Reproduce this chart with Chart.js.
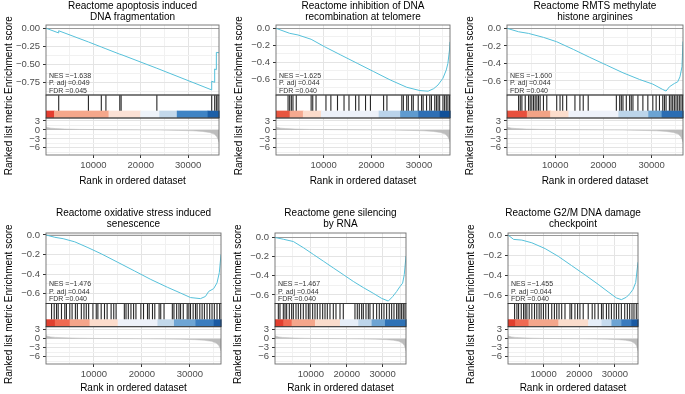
<!DOCTYPE html>
<html>
<head>
<meta charset="utf-8">
<script src="https://cdn.jsdelivr.net/npm/chart.js@4.4.1/dist/chart.umd.min.js"></script>
<style>
  html, body { margin: 0; padding: 0; background: #fff; }
  #wrap { position: relative; width: 685px; height: 394px; overflow: hidden; }
  #wrap canvas { position: absolute; }
</style>
</head>
<body>
<div id="wrap"></div>
<script>
/* GSEA enrichment plots, 2 x 3 grid
   - running enrichment score (top), hit strip + colour bar (middle),
     ranked list metric (bottom), stacked y axes in one chart per panel */

// ---- shared axes ----
const xTicks = [5000, 10000, 15000, 20000, 25000, 30000, 35000];
const xLabelled = [10000, 20000, 30000];
const rankTicks = [3, 0, -3, -6];
const rankMinor = [1.5, -1.5, -4.5, -7.5];

// ---- ranked list metric (same list for every panel) ----
const metricRanks  = [0, 300, 1000, 2000, 4000, 7000, 10000, 15000, 20000, 24000, 28000, 31000, 33000, 34500, 35500, 36000, 36300, 36500];
const metricValues = [1.1, 0.85, 0.6, 0.45, 0.3, 0.18, 0.11, 0.05, 0.0, -0.05, -0.15, -0.3, -0.5, -0.85, -1.4, -2.2, -3.1, -4.2];

// ---- panel 1 ----
const title1 = ['Reactome apoptosis induced', 'DNA fragmentation'];
const stats1 = ['NES =\u22121.638', 'P. adj =0.049', 'FDR =0.045'];
const esTicks1 = [0, -0.25, -0.5, -0.75];
const esRanks1  = [0, 2670, 2680, 8950, 11670, 12640, 15570, 15850, 23390, 34950, 34960, 35580, 35590, 35930, 35940, 36500];
const esValues1 = [0, -0.065, -0.035, -0.19, -0.26, -0.285, -0.36, -0.365, -0.555, -0.855, -0.735, -0.75, -0.565, -0.575, -0.335, -0.34];
const hits1 = [2680, 8950, 11670, 12640, 15570, 15850, 23390, 34960, 35590, 35940, 36280];
const barEdges1 = [0, 1700, 13200, 19900, 23900, 27600, 34100, 36500];
const barColors1 = ['#E43D2F', '#F5A78B', '#FCE1D5', '#EEF3FA', '#C3D8EB', '#3F84C5', '#1B5FA8'];

// ---- panel 2 ----
const title2 = ['Reactome inhibition of DNA', 'recombination at telomere'];
const stats2 = ['NES =\u22121.625', 'P. adj =0.044', 'FDR =0.040'];
const esTicks2 = [0, -0.2, -0.4, -0.6];
const esRanks2  = [0, 2870, 4600, 7370, 10130, 13590, 17050, 20500, 23960, 27430, 30190, 31910, 33090, 33990, 35020, 35720, 36060, 36400, 36500];
const esValues2 = [0, -0.059, -0.078, -0.129, -0.215, -0.314, -0.412, -0.51, -0.608, -0.694, -0.733, -0.74, -0.71, -0.667, -0.588, -0.49, -0.412, -0.255, -0.16];
const hits2 = [2530, 2870, 3220, 3560, 4250, 7370, 7710, 8400, 10480, 11510, 12900, 14270, 15310, 16700, 17390, 18780, 19810, 22570, 23270, 26390, 26720, 27420, 27760, 28460, 28800, 29830, 30540, 30870, 31580, 32260, 32610, 33300, 33650, 33990, 34330, 35020, 35370, 35720, 36060, 36400];
const barEdges2 = [0, 2870, 5640, 9440, 21540, 26040, 29830, 34330, 36500];
const barColors2 = ['#E8553F', '#F4A98F', '#FCDCCB', '#EDF1F9', '#BAD3EA', '#5F9BD0', '#2E6FB5', '#105099'];

// ---- panel 3 ----
const title3 = ['Reactome RMTS methylate', 'histone arginines'];
const stats3 = ['NES =\u22121.600', 'P. adj =0.044', 'FDR =0.040'];
const esTicks3 = [0, -0.2, -0.4, -0.6];
const esRanks3  = [0, 2400, 4470, 7560, 10310, 13750, 17180, 20620, 24060, 27490, 30240, 32300, 32990, 33670, 34700, 35400, 35870, 36290, 36500];
const esValues3 = [0, -0.039, -0.058, -0.103, -0.153, -0.24, -0.331, -0.419, -0.507, -0.583, -0.636, -0.697, -0.715, -0.667, -0.629, -0.61, -0.553, -0.438, -0.15];
const hits3 = [2405, 2750, 3090, 3780, 4470, 4810, 5150, 5500, 5840, 6190, 6530, 6870, 7560, 8250, 10310, 11000, 11550, 12370, 14090, 15120, 15810, 16840, 22680, 23370, 23710, 24050, 24740, 25430, 25770, 26120, 27150, 28180, 29210, 30240, 30930, 31620, 32300, 32650, 32990, 33680, 34020, 34360, 34710, 35050, 35400, 35740, 36080, 36430];
const barEdges3 = [0, 4120, 8960, 12750, 23100, 29300, 32070, 36500];
const barColors3 = ['#E8503D', '#F3A386', '#FCDDCC', '#EEF2FA', '#BCD5EA', '#6CA4D3', '#2B6DB3'];

// ---- panel 4 ----
const title4 = ['Reactome oxidative stress induced', 'senescence'];
const stats4 = ['NES =\u22121.476', 'P. adj =0.044', 'FDR =0.040'];
const esTicks4 = [0, -0.2, -0.4, -0.6];
const esRanks4  = [0, 1850, 3580, 5990, 8750, 11510, 14970, 18410, 21860, 25320, 28070, 30140, 32210, 33250, 33940, 34970, 35670, 36150, 36500];
const esValues4 = [0, -0.024, -0.038, -0.07, -0.129, -0.192, -0.279, -0.366, -0.454, -0.534, -0.593, -0.639, -0.65, -0.628, -0.576, -0.548, -0.489, -0.384, -0.2];
const hits4 = [1160, 1710, 2190, 2540, 3230, 3920, 4260, 4960, 5440, 6130, 6540, 7370, 7920, 8400, 8890, 9790, 10480, 10820, 11510, 12200, 12750, 13580, 14130, 14620, 16340, 16690, 17170, 17720, 18270, 18760, 19790, 20340, 21170, 21520, 22210, 22690, 23590, 23930, 24620, 26350, 26690, 27250, 27730, 28070, 28630, 29450, 29800, 30140, 30690, 31180, 31520, 32080, 32560, 33040, 33590, 34140, 34630, 35110, 35670, 36220];
const barEdges4 = [0, 1850, 4950, 9090, 14970, 23250, 26690, 31180, 34980, 36500];
const barColors4 = ['#E0402F', '#F06A52', '#F5A58A', '#FCDCCC', '#EDF1F9', '#C2D8EA', '#6EA5D4', '#3B7DBF', '#1A5AA3'];

// ---- panel 5 ----
const title5 = ['Reactome gene silencing', 'by RNA'];
const stats5 = ['NES =\u22121.467', 'P. adj =0.044', 'FDR =0.040'];
const esTicks5 = [0, -0.2, -0.4, -0.6];
const esRanks5  = [0, 2320, 5110, 7890, 10690, 13460, 16250, 19040, 21820, 24600, 27390, 29710, 31570, 32770, 33880, 34820, 35560, 36020, 36500];
const esValues5 = [0, -0.018, -0.042, -0.106, -0.177, -0.247, -0.318, -0.388, -0.459, -0.523, -0.583, -0.636, -0.664, -0.618, -0.565, -0.512, -0.477, -0.388, -0.194];
const hits5 = [930, 1390, 2320, 2790, 3250, 3990, 4640, 5110, 5850, 6500, 7150, 7890, 8640, 9290, 9750, 10490, 11140, 11790, 12530, 13280, 13930, 14580, 15320, 16250, 16990, 18110, 19030, 22280, 22930, 23490, 24140, 24610, 25350, 26000, 26460, 27390, 28320, 29060, 29710, 30360, 31100, 31850, 32500, 33150, 33890, 34350, 34820, 35280, 35750, 36210];
const barEdges5 = [0, 2320, 4640, 11140, 18100, 23210, 26920, 30640, 36500];
const barColors5 = ['#E23F2E', '#F06A52', '#F4A68B', '#FADCCC', '#E6EEF8', '#BDD5EA', '#6DA4D3', '#2E72B6'];

// ---- panel 6 ----
const title6 = ['Reactome G2/M DNA damage', 'checkpoint'];
const stats6 = ['NES =\u22121.455', 'P. adj =0.044', 'FDR =0.040'];
const esTicks6 = [0, -0.2, -0.4, -0.6];
const esRanks6  = [0, 1580, 3900, 6700, 10420, 14140, 17870, 21590, 25310, 28110, 30440, 31840, 33240, 34170, 35100, 35850, 36500];
const esValues6 = [0, -0.044, -0.051, -0.078, -0.136, -0.214, -0.306, -0.398, -0.493, -0.568, -0.629, -0.646, -0.622, -0.588, -0.544, -0.476, -0.272];
const hits6 = [1850, 2500, 2970, 3720, 4370, 4830, 5300, 5950, 6690, 7440, 8090, 8740, 9300, 9950, 10600, 11350, 12280, 13030, 13680, 14330, 15070, 16000, 17400, 17870, 18800, 19540, 20190, 21120, 22520, 23640, 24380, 25320, 26250, 26710, 27640, 28300, 29040, 29790, 30440, 31090, 31830, 32770, 33510, 34160, 34810, 35370, 36020];
const barEdges6 = [0, 2040, 5760, 14130, 22510, 26260, 29050, 31840, 34640, 36500];
const barColors6 = ['#E23F2E', '#F06A52', '#F4A68B', '#FADCCC', '#E6EEF8', '#C6DBEE', '#6DA4D3', '#3A7BBE', '#1A5AA3'];

// ---- layout (absolute page coordinates) ----
const FONT = "'Liberation Sans', Arial, Helvetica, sans-serif";
const X_MAX = 36500;
const HIT_BASE = 0.32;       // colour bar takes the lower part of the hit strip
const Y_AXIS_W = 33;         // wide enough for "−0.25" so labels are not squeezed

const panels = [
  { title: title1, stats: stats1, esTicks: esTicks1, dec: 2, esMin: -0.926, esMax: 0.045, esX: esRanks1, esY: esValues1, hits: hits1, edges: barEdges1, colors: barColors1,
    box: { x: 0,   y: 0,   w: 229, h: 200, left: 46,  right: 219, top: 25,  bottom: 155, t1: 6,     t2: 17.5,  xTitle: 181 } },
  { title: title2, stats: stats2, esTicks: esTicks2, dec: 1, esMin: -0.785, esMax: 0.039, esX: esRanks2, esY: esValues2, hits: hits2, edges: barEdges2, colors: barColors2,
    box: { x: 229, y: 0,   w: 226, h: 200, left: 276, right: 450, top: 25,  bottom: 155, t1: 6,     t2: 17.5,  xTitle: 181 } },
  { title: title3, stats: stats3, esTicks: esTicks3, dec: 1, esMin: -0.76,  esMax: 0.038, esX: esRanks3, esY: esValues3, hits: hits3, edges: barEdges3, colors: barColors3,
    box: { x: 455, y: 0,   w: 230, h: 200, left: 507, right: 683, top: 25,  bottom: 155, t1: 6,     t2: 17.5,  xTitle: 181 } },
  { title: title4, stats: stats4, esTicks: esTicks4, dec: 1, esMin: -0.70,  esMax: 0.02,  esX: esRanks4, esY: esValues4, hits: hits4, edges: barEdges4, colors: barColors4,
    box: { x: 0,   y: 200, w: 229, h: 194, left: 46,  right: 221, top: 233, bottom: 364, t1: 213.5, t2: 224.5, xTitle: 388 } },
  { title: title5, stats: stats5, esTicks: esTicks5, dec: 1, esMin: -0.69,  esMax: 0.047, esX: esRanks5, esY: esValues5, hits: hits5, edges: barEdges5, colors: barColors5,
    box: { x: 229, y: 200, w: 226, h: 194, left: 275, right: 406, top: 233, bottom: 364, t1: 213.5, t2: 224.5, xTitle: 388 } },
  { title: title6, stats: stats6, esTicks: esTicks6, dec: 1, esMin: -0.685, esMax: 0.02,  esX: esRanks6, esY: esValues6, hits: hits6, edges: barEdges6, colors: barColors6,
    box: { x: 455, y: 200, w: 230, h: 194, left: 508, right: 638, top: 233, bottom: 364, t1: 213.5, t2: 224.5, xTitle: 388 } }
];

Chart.defaults.font.family = FONT;
Chart.defaults.color = '#4d4d4d';

// R style minus sign on negative tick labels
const minus = s => (s.charAt(0) === '-' ? '\u2212' + s.slice(1) : s);

function tickList(major, minor, lo, hi) {
    return major.map(v => ({ value: v, lab: true }))
        .concat(minor.filter(v => v > lo && v < hi).map(v => ({ value: v, lab: false })))
        .sort((a, b) => a.value - b.value);
}

const gridColor = c => (c.tick && c.tick.lab ? '#e4e4e4' : '#f1f1f1');
const tickColor = c => (c.tick && c.tick.lab ? '#333' : 'rgba(0,0,0,0)');

function makePlugin(p) {
    return {
        id: 'gseaPanel',
        beforeDatasetsDraw(chart) {
            const { ctx, chartArea: { left, right }, scales: { x, y, yHit } } = chart;
            ctx.save();
            // blank the hit strip (grid lines should not show there)
            ctx.fillStyle = '#fff';
            ctx.fillRect(left, yHit.top, right - left, yHit.bottom - yHit.top);
            // colour bar
            const barTop = yHit.getPixelForValue(HIT_BASE);
            const barBot = yHit.getPixelForValue(0);
            p.colors.forEach((c, i) => {
                const x0 = x.getPixelForValue(p.edges[i]);
                const x1 = Math.min(right, x.getPixelForValue(p.edges[i + 1]));
                ctx.fillStyle = c;
                ctx.fillRect(x0, barTop, x1 - x0 + 0.6, barBot - barTop);
            });
            // ES zero line
            const y0 = Math.round(y.getPixelForValue(0)) + 0.5;
            ctx.strokeStyle = '#9a9a9a';
            ctx.lineWidth = 1;
            ctx.beginPath();
            ctx.moveTo(left, y0);
            ctx.lineTo(right, y0);
            ctx.stroke();
            ctx.restore();
        },
        afterDatasetsDraw(chart) {
            const { ctx, chartArea: { left, right }, scales: { y, yHit, yRank } } = chart;
            ctx.save();
            ctx.lineWidth = 0.9;
            ctx.strokeStyle = '#6e6e6e';
            ctx.strokeRect(left, y.top, right - left, y.bottom - y.top);
            ctx.strokeRect(left, yRank.top, right - left, yRank.bottom - yRank.top);
            ctx.strokeStyle = '#333';
            ctx.strokeRect(left, yHit.top, right - left, yHit.bottom - yHit.top);

            // NES / p.adj / FDR
            ctx.font = `7px ${FONT}`;
            ctx.fillStyle = '#333';
            ctx.textAlign = 'left';
            ctx.textBaseline = 'alphabetic';
            p.stats.forEach((s, i) => {
                ctx.fillText(s, left + 3, y.bottom - 2.5 - (p.stats.length - 1 - i) * 7.4);
            });
            ctx.restore();
        },
        afterDraw(chart) {
            const { ctx, chartArea: { left, right }, scales: { y, yRank } } = chart;
            const b = p.box;
            ctx.save();
            ctx.fillStyle = '#000';
            ctx.textAlign = 'center';
            ctx.textBaseline = 'middle';
            ctx.font = `10px ${FONT}`;
            const cx = (left + right) / 2;
            ctx.fillText(p.title[0], cx, b.t1 - b.y);
            ctx.fillText(p.title[1], cx, b.t2 - b.y);

            // y axis titles
            const tx = left - 37;
            ctx.save();
            ctx.translate(tx, (y.top + y.bottom) / 2 - 5);
            ctx.rotate(-Math.PI / 2);
            ctx.fillText('Enrichment score', 0, 0);
            ctx.restore();
            ctx.save();
            ctx.translate(tx, (yRank.top + yRank.bottom) / 2 - 1);
            ctx.rotate(-Math.PI / 2);
            ctx.fillText('Ranked list metric', 0, 0);
            ctx.restore();
            ctx.restore();
        }
    };
}

function createPanel(p) {
    const b = p.box;
    const canvas = document.createElement('canvas');
    canvas.width = b.w;
    canvas.height = b.h;
    canvas.style.left = b.x + 'px';
    canvas.style.top = b.y + 'px';
    document.getElementById('wrap').appendChild(canvas);

    const titleBoxBottom = b.xTitle + 6 + 2;
    const xAxisH = titleBoxBottom - b.bottom;
    const pad = {
        left: b.left - b.x - Y_AXIS_W,
        right: b.x + b.w - b.right,
        top: b.top - b.y,
        bottom: b.y + b.h - titleBoxBottom
    };

    const step = p.esTicks[0] - p.esTicks[1];
    const esMinor = p.esTicks.map(v => v - step / 2);

    const yCommon = {
        type: 'linear',
        position: 'left',
        stack: 'gsea',
        offset: false,
        border: { display: false },
        afterFit(s) { s.width = Y_AXIS_W; }
    };

    return new Chart(canvas.getContext('2d'), {
        type: 'line',
        data: {
            datasets: [
                {
                    data: metricRanks.map((r, i) => ({ x: r, y: metricValues[i] })),
                    yAxisID: 'yRank',
                    borderColor: '#bdbdbd',
                    backgroundColor: '#bdbdbd',
                    borderWidth: 0.5,
                    pointRadius: 0,
                    fill: { value: 0 },
                    tension: 0
                },
                {
                    data: p.esX.map((r, i) => ({ x: r, y: p.esY[i] })),
                    yAxisID: 'y',
                    borderColor: '#56C1DA',
                    borderWidth: 1,
                    pointRadius: 0,
                    fill: false,
                    tension: 0
                },
                {
                    data: p.hits.map(r => ({ x: r, y: (1 + HIT_BASE) / 2 })),
                    yAxisID: 'yHit',
                    showLine: false,
                    pointStyle: 'line',
                    rotation: 90,
                    pointBorderColor: 'rgba(0,0,0,0.85)',
                    pointBorderWidth: 1.1,
                    pointRadius(c) {
                        const s = c.chart.scales.yHit;
                        return (s.getPixelForValue(HIT_BASE) - s.getPixelForValue(1)) / 2;
                    }
                }
            ]
        },
        options: {
            responsive: false,
            animation: false,
            events: [],
            layout: { padding: pad },
            plugins: {
                legend: { display: false },
                tooltip: { enabled: false },
                title: { display: false }
            },
            scales: {
                x: {
                    type: 'linear',
                    min: 0,
                    max: X_MAX,
                    border: { display: false },
                    afterBuildTicks(s) {
                        s.ticks = xTicks.map(v => ({ value: v, lab: xLabelled.includes(v) }));
                    },
                    afterFit(s) { s.height = xAxisH; },
                    ticks: {
                        autoSkip: false,
                        maxRotation: 0,
                        padding: 2,
                        font: { size: 9.5 },
                        callback: (v, i, t) => (t[i].lab ? String(v) : '')
                    },
                    grid: { color: gridColor, tickColor: tickColor, tickLength: 3 },
                    title: {
                        display: true,
                        text: 'Rank in ordered dataset',
                        color: '#000',
                        font: { size: 10 },
                        padding: { top: 0, bottom: 2 }
                    }
                },
                // stacked y axes: the last one defined sits on top
                yRank: Object.assign({}, yCommon, {
                    stackWeight: 37,
                    min: -8.4,
                    max: 4,
                    afterBuildTicks(s) { s.ticks = tickList(rankTicks, rankMinor, -8.4, 4); },
                    ticks: {
                        autoSkip: false,
                        padding: 3,
                        font: { size: 9.5 },
                        callback: (v, i, t) => (t[i].lab ? minus(String(v)) : '')
                    },
                    grid: { color: gridColor, tickColor: tickColor, tickLength: 3 }
                }),
                yHit: Object.assign({}, yCommon, {
                    stackWeight: 23,
                    min: 0,
                    max: 1,
                    ticks: { display: false },
                    grid: { display: false }
                }),
                y: Object.assign({}, yCommon, {
                    stackWeight: 70,
                    min: p.esMin,
                    max: p.esMax,
                    afterBuildTicks(s) { s.ticks = tickList(p.esTicks, esMinor, p.esMin, p.esMax); },
                    ticks: {
                        autoSkip: false,
                        padding: 3,
                        font: { size: 9.5 },
                        callback: (v, i, t) => (t[i].lab ? minus(v.toFixed(p.dec)) : '')
                    },
                    grid: { color: gridColor, tickColor: tickColor, tickLength: 3 }
                })
            }
        },
        plugins: [makePlugin(p)]
    });
}

panels.forEach(createPanel);
</script>
</body>
</html>
